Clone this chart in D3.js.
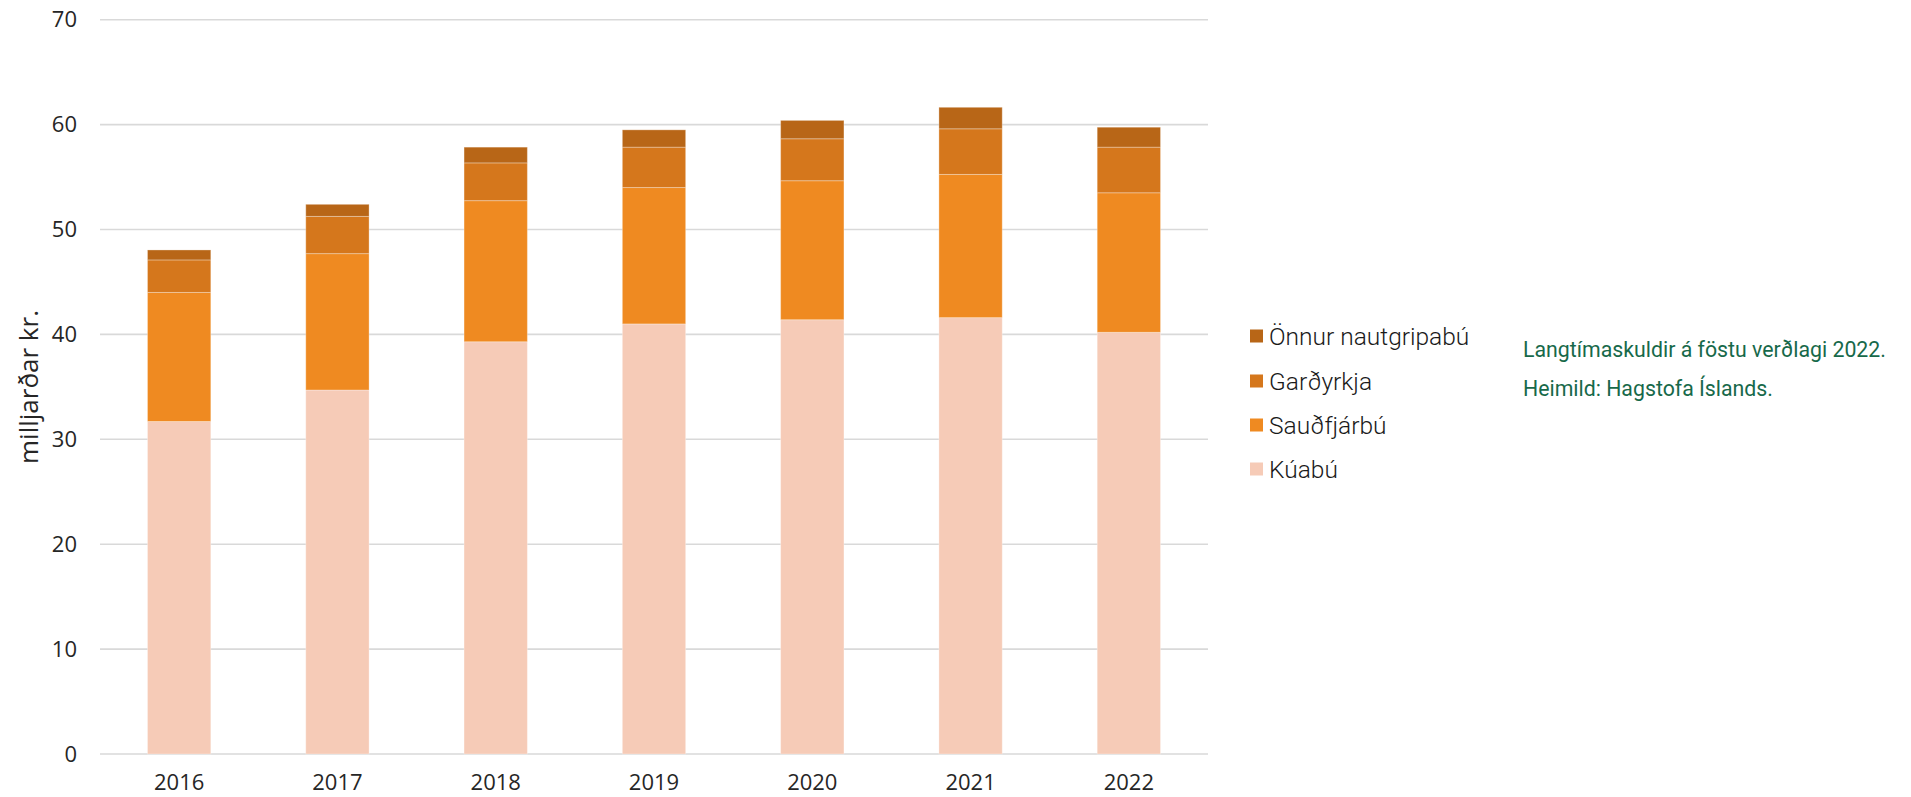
<!DOCTYPE html>
<html>
<head>
<meta charset="utf-8">
<script src="https://cdn.jsdelivr.net/npm/d3@7"></script>
<style>
  html, body { margin: 0; padding: 0; background: #fff; }
  svg { display: block; }
</style>
</head>
<body>
<svg id="chart" width="1911" height="797"></svg>
<script>
// ---- data ----
const years = ["2016", "2017", "2018", "2019", "2020", "2021", "2022"];
const kuabu = [31.7, 34.7, 39.3, 41.0, 41.4, 41.6, 40.2];
const saudfjarbu = [12.3, 13.0, 13.45, 13.0, 13.25, 13.65, 13.3];
const gardyrkja = [3.1, 3.55, 3.6, 3.85, 4.0, 4.35, 4.35];
const onnur = [0.95, 1.15, 1.5, 1.65, 1.75, 2.05, 1.9];
const seriesNames = ["Kúabú", "Sauðfjárbú", "Garðyrkja", "Önnur nautgripabú"];
const seriesColors = ["#F6CBB7", "#EF8A21", "#D5771C", "#B86617"];
const yTicks = [0, 10, 20, 30, 40, 50, 60, 70];
const yLabel = "milljarðar kr.";
const notes = ["Langtímaskuldir á föstu verðlagi 2022.", "Heimild: Hagstofa Íslands."];

const seriesValues = [kuabu, saudfjarbu, gardyrkja, onnur];
const rows = years.map((y, i) => {
  const r = { year: y };
  seriesNames.forEach((n, k) => r[n] = seriesValues[k][i]);
  return r;
});

const svg = d3.select("#chart");
const x = d3.scaleBand().domain(years).range([100, 1208]).paddingInner(0.6).paddingOuter(0.3);
const y = d3.scaleLinear().domain([0, 70]).range([754, 19.7]);

// gridlines
svg.append("g")
  .selectAll("line").data(yTicks).join("line")
  .attr("x1", 100).attr("x2", 1208)
  .attr("y1", d => y(d)).attr("y2", d => y(d))
  .attr("stroke", "#d9d9d9").attr("stroke-width", 1.6);

// y axis labels
const yAxis = svg.append("g").attr("transform", "translate(77,0)")
  .call(d3.axisLeft(y).tickValues(yTicks).tickSize(0).tickPadding(0));
yAxis.select(".domain").remove();
yAxis.selectAll("text")
  .attr("font-family", "'Open Sans', sans-serif")
  .attr("font-size", 22).attr("fill", "#262626");

// x axis labels
const xAxis = svg.append("g").attr("transform", "translate(0,754)")
  .call(d3.axisBottom(x).tickSize(0).tickPadding(20));
xAxis.select(".domain").remove();
xAxis.selectAll("text")
  .attr("font-family", "'Open Sans', sans-serif")
  .attr("font-size", 22).attr("fill", "#262626");

// stacked bars
const stack = d3.stack().keys(seriesNames)(rows);
svg.append("g")
  .selectAll("g").data(stack).join("g")
  .attr("fill", (d, i) => seriesColors[i])
  .selectAll("rect").data(d => d).join("rect")
  .attr("x", d => x(d.data.year))
  .attr("width", x.bandwidth())
  .attr("y", d => y(d[1]))
  .attr("height", d => y(d[0]) - y(d[1]))
  .attr("stroke", "#ffffff").attr("stroke-opacity", 0.3).attr("stroke-width", 1);

// y axis title
svg.append("text")
  .attr("transform", "translate(38,387) rotate(-90)")
  .attr("text-anchor", "middle")
  .attr("font-family", "'Open Sans', sans-serif")
  .attr("font-size", 26).attr("fill", "#262626")
  .text(yLabel);

// legend (top to bottom: reverse order)
const legendOrder = [3, 2, 1, 0];
const legendY = [336, 381, 425, 469];
const lg = svg.append("g");
legendOrder.forEach((k, i) => {
  lg.append("rect")
    .attr("x", 1250).attr("y", legendY[i] - 6.5)
    .attr("width", 13).attr("height", 13)
    .attr("fill", seriesColors[k]);
  lg.append("text")
    .attr("x", 1269).attr("y", legendY[i])
    .attr("dy", "0.35em")
    .attr("font-family", "Roboto, sans-serif")
    .attr("font-weight", 300)
    .attr("font-size", 24.5).attr("fill", "#1a1a1a")
    .text(seriesNames[k]);
});

// notes
svg.append("g").selectAll("text").data(notes).join("text")
  .attr("x", 1523).attr("y", (d, i) => 357 + i * 39)
  .attr("font-family", "Roboto, sans-serif")
  .attr("font-size", 21.3).attr("fill", "#17694a")
  .text(d => d);
</script>
</body>
</html>
